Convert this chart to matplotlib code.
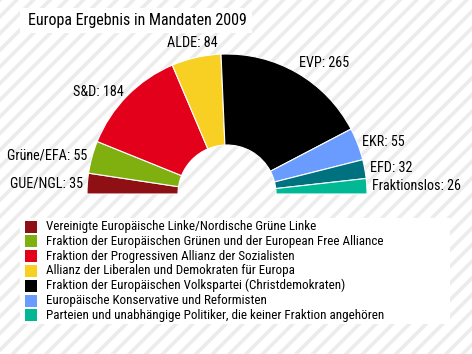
import numpy as np
import matplotlib
matplotlib.use("Agg")
import matplotlib.pyplot as plt
from matplotlib.patches import Rectangle

plt.rcParams['font.family'] = ['Roboto Condensed', 'DejaVu Sans']
plt.rcParams['hatch.color'] = '#ececec'
plt.rcParams['hatch.linewidth'] = 2.6

# Daten
fraktionen = ['GUE/NGL', 'Grüne/EFA', 'S&D', 'ALDE', 'EVP', 'EKR', 'EFD', 'Fraktionslos']
mandate = [35, 55, 184, 84, 265, 55, 32, 26]
farben = ['#8e0f14', '#7fb00f', '#e3001b', '#f7d023', '#000000', '#6a9cff', '#00717f', '#00b894']

legende_text = [
    'Vereinigte Europäische Linke/Nordische Grüne Linke',
    'Fraktion der Europäischen Grünen und der European Free Alliance',
    'Fraktion der Progressiven Allianz der Sozialisten',
    'Allianz der Liberalen und Demokraten für Europa',
    'Fraktion der Europäischen Volkspartei (Christdemokraten)',
    'Europäische Konservative und Reformisten',
    'Parteien und unabhängige Politiker, die keiner Fraktion angehören',
]
legende_farben = ['#8e0f14', '#7fb00f', '#e3001b', '#f7d023', '#000000', '#6a9cff', '#00b894']

W, H = 472, 354
fig = plt.figure(figsize=(W / 100, H / 100), dpi=100)

# Hintergrund mit Streifen
bg = fig.add_axes([0, 0, 1, 1])
bg.set_xlim(0, W)
bg.set_ylim(H, 0)
bg.axis('off')
bg.add_patch(Rectangle((0, 0), W, H, facecolor='white', edgecolor='#ececec', hatch='//', lw=0))
bg.add_patch(Rectangle((20, 8), 232, 25, facecolor='white', lw=0))
bg.text(28, 20.5, 'Europa Ergebnis in Mandaten 2009', fontsize=11.5, va='center', ha='left')

# Legende
bg.add_patch(Rectangle((20, 218), 430, 106, facecolor='white', lw=0))
for i, (txt, c) in enumerate(zip(legende_text, legende_farben)):
    y = 226.5 + i * 14.8
    bg.add_patch(Rectangle((24.5, y - 6), 12, 12, facecolor=c, lw=0))
    bg.text(46, y, txt, fontsize=9.4, va='center', ha='left')

# Halbkreis
cx, cy, r = 227, 194, 140
ax = fig.add_axes([(cx - r) / W, (H - cy - r) / H, 2 * r / W, 2 * r / H])
total = sum(mandate)
werte = mandate + [total]
cols = farben + ['none']
wedges, _ = ax.pie(werte, colors=cols, startangle=180, counterclock=False,
                   radius=1, wedgeprops=dict(width=0.65, edgecolor='white', linewidth=0.8))
wedges[-1].set_edgecolor('none')
ax.set_xlim(-1, 1)
ax.set_ylim(-1, 1)
ax.set_aspect('auto')
ax.axis('off')

cum = np.cumsum([0] + mandate)
for i, name in enumerate(fraktionen):
    mid = (cum[i] + cum[i + 1]) / 2
    ang = np.deg2rad(180 - mid / total * 180)
    x, y = 1.035 * np.cos(ang), 1.035 * np.sin(ang)
    if abs(np.cos(ang)) < 0.3:
        ha = 'center'
        x -= 0.02
        y += 0.07
    elif np.cos(ang) < 0:
        ha = 'right'
    else:
        ha = 'left'
        if np.sin(ang) > 0.6:
            y += 0.04
    ax.text(x, y, f'{name}: {mandate[i]}', fontsize=10.2, ha=ha, va='center')

fig.savefig('out.png', dpi=100)
